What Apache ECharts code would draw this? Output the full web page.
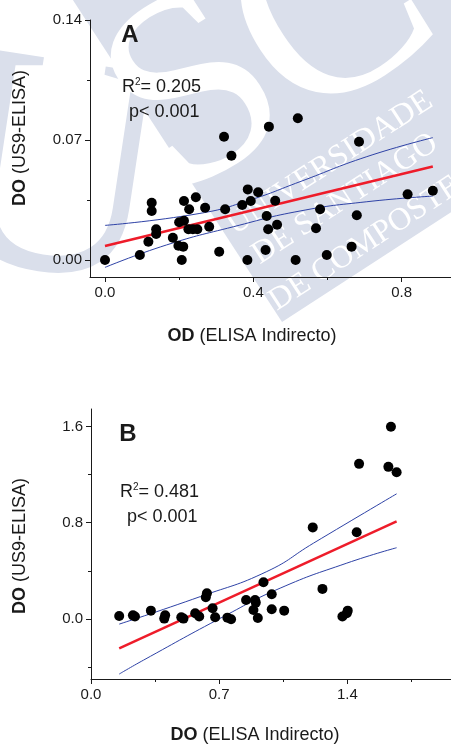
<!DOCTYPE html>
<html>
<head>
<meta charset="utf-8">
<script src="https://cdn.jsdelivr.net/npm/echarts@6/dist/echarts.min.js"></script>
<style>
  html, body { margin: 0; padding: 0; background: #fff; }
  #chart { width: 451px; height: 745px; }
</style>
</head>
<body>
<div id="chart"></div>
<script>
// ---- Panel A: US9-ELISA OD vs indirect ELISA OD ----
const odA = [0.000, 0.094, 0.126, 0.126, 0.138, 0.138, 0.117, 0.183, 0.198, 0.211,
             0.207, 0.213, 0.200, 0.213, 0.227, 0.245, 0.270, 0.225, 0.237, 0.249,
             0.281, 0.308, 0.321, 0.341, 0.324, 0.370, 0.385, 0.393, 0.413, 0.384,
             0.433, 0.436, 0.442, 0.440, 0.459, 0.464, 0.520, 0.514, 0.569, 0.580,
             0.598, 0.665, 0.679, 0.685, 0.816, 0.884];
const us9A = [0.0000, 0.0029, 0.0334, 0.0286, 0.0179, 0.0152, 0.0107, 0.0130, 0.0083, 0.0078,
              0.0000, 0.0344, 0.0220, 0.0229, 0.0296, 0.0366, 0.0305, 0.0179, 0.0179, 0.0179,
              0.0194, 0.0048, 0.0719, 0.0608, 0.0296, 0.0321, 0.0412, 0.0344, 0.0395, 0.0000,
              0.0058, 0.0257, 0.0778, 0.0179, 0.0346, 0.0206, 0.0827, 0.0000, 0.0185, 0.0296,
              0.0029, 0.0078, 0.0261, 0.0690, 0.0383, 0.0404];
const fitA   = [[0, 0.0082], [0.884, 0.0545]];
const upperA = [[0, 0.0202], [0.256, 0.0272], [0.391, 0.0350], [0.526, 0.0457], [0.706, 0.0603], [0.884, 0.0714]];
const lowerA = [[0, -0.0043], [0.166, 0.0088], [0.346, 0.0194], [0.526, 0.0286], [0.706, 0.0340], [0.884, 0.0373]];
const xTicksA = [0, 0.4, 0.8];
const xMinorA = [0.2, 0.6];
const yTicksA = [0, 0.07, 0.14];
const yMinorA = [0.035, 0.105];
const statsA = ['0.205', '0.001'];

// ---- Panel B ----
const odB = [0.154, 0.229, 0.240, 0.327, 0.400, 0.405, 0.493, 0.505, 0.569, 0.591,
             0.627, 0.633, 0.664, 0.678, 0.745, 0.765, 0.847, 0.887, 0.896, 0.900,
             0.911, 0.942, 0.987, 0.987, 1.055, 1.211, 1.264, 1.373, 1.397, 1.402,
             1.451, 1.464, 1.624, 1.638, 1.669];
const us9B = [0.025, 0.030, 0.020, 0.069, 0.003, 0.030, 0.014, 0.003, 0.047, 0.020,
              0.180, 0.214, 0.089, 0.014, 0.011, -0.003, 0.158, 0.075, 0.158, 0.136,
              0.008, 0.305, 0.205, 0.081, 0.069, 0.761, 0.250, 0.020, 0.047, 0.069,
              0.720, 1.289, 1.264, 1.597, 1.219];
const fitB   = [[0.154, -0.244], [1.669, 0.811]];
const upperB = [[0.154, -0.043], [0.597, 0.186], [0.960, 0.394], [1.215, 0.630], [1.669, 1.040]];
const lowerB = [[0.154, -0.458], [0.287, -0.342], [0.724, 0.020], [1.033, 0.256], [1.397, 0.464], [1.669, 0.592]];
const xTicksB = [0, 0.7, 1.4];
const xMinorB = [0.35, 1.05, 1.75];
const yTicksB = [0, 0.8, 1.6];
const yMinorB = [-0.4, 0.4, 1.2];
const statsB = ['0.481', '0.001'];

const SANS = 'Liberation Sans, Arial, Helvetica, sans-serif';
const SERIF = 'Liberation Serif, Times New Roman, serif';
const INK = '#1a1a1a';
const RED = '#ee1c2a';
const BLUE = '#2e42a6';
const WASH = '#dadfeb';

function pairs(xs, ys) { return xs.map((x, i) => [x, ys[i]]); }

function mainAxis(grid, min, max, ticks, digits, isX) {
  return {
    type: 'value', gridIndex: grid, min: min, max: max, z: 8,
    position: isX ? 'bottom' : 'left',
    splitLine: { show: false },
    axisLine: { show: true, onZero: false, lineStyle: { color: INK, width: 1 } },
    axisTick: { show: true, length: 5, customValues: ticks, lineStyle: { color: INK, width: 1 } },
    axisLabel: {
      show: true, customValues: ticks, margin: 8,
      color: INK, fontFamily: SANS, fontSize: 15,
      formatter: v => Number(v).toFixed(digits)
    }
  };
}
function minorAxis(grid, min, max, ticks, isX) {
  return {
    type: 'value', gridIndex: grid, min: min, max: max, z: 8,
    position: isX ? 'bottom' : 'left',
    splitLine: { show: false },
    axisLine: { show: false, onZero: false },
    axisTick: { show: true, length: 3, customValues: ticks, lineStyle: { color: INK, width: 1 } },
    axisLabel: { show: false }
  };
}
function scatter(xi, yi, data) {
  return { type: 'scatter', xAxisIndex: xi, yAxisIndex: yi, data: data,
           symbolSize: 10, itemStyle: { color: '#000', opacity: 1 }, z: 5 };
}
function curve(xi, yi, data, color, width, smooth) {
  return { type: 'line', xAxisIndex: xi, yAxisIndex: yi, data: data, smooth: smooth,
           symbol: 'none', lineStyle: { color: color, width: width }, z: 4 };
}

function statText(x, y, r2, p) {
  return [
    { type: 'text', x: x, y: y, z: 10, style: {
        text: '{r|R}{s|2}{r|= ' + r2 + '}', fill: INK, verticalAlign: 'middle',
        rich: { r: { fontFamily: SANS, fontSize: 18, lineHeight: 20, fill: INK },
                s: { fontFamily: SANS, fontSize: 10, lineHeight: 20, verticalAlign: 'top', fill: INK } } } },
    { type: 'text', x: x + 7, y: y + 25, z: 10, style: {
        text: 'p< ' + p, fill: INK, font: '18px ' + SANS, verticalAlign: 'middle' } }
  ];
}
function axisTitle(x, y, bold, rest, rot) {
  return { type: 'text', x: x, y: y, rotation: rot, z: 10, style: {
      text: '{b|' + bold + '}{n| ' + rest + '}', align: 'center', verticalAlign: 'middle',
      rich: { b: { fontFamily: SANS, fontSize: 18, fontWeight: 'bold', fill: INK },
              n: { fontFamily: SANS, fontSize: 18, fill: INK } } } };
}

// University watermark behind panel A: tinted band with the USC monogram and name
const ang = 33 * Math.PI / 180;
const c = Math.cos(ang), s = Math.sin(ang);
const corner = [282, 322];
const far = 620, deep = 440;
const band = [
  corner,
  [corner[0] + far * c, corner[1] - far * s],
  [corner[0] + far * c - deep * s, corner[1] - far * s - deep * c],
  [corner[0] - deep * s, corner[1] - deep * c]
];
function markText(x, y, rot, str, font, fill) {
  return { type: 'text', silent: true, z: 0, x: x, y: y, rotation: rot,
           style: { text: str, font: font, fill: fill, align: 'center', verticalAlign: 'middle' } };
}
const watermark = [
  { type: 'polygon', silent: true, z: 0, shape: { points: band }, style: { fill: WASH } },
  markText(50, 185, -0.15, 'U', '320px ' + SERIF, WASH),
  markText(200, 100, ang, 'S', '270px ' + SERIF, '#fff'),
  markText(335, 20, ang, 'C', '270px ' + SERIF, '#fff'),
  markText(330, 163, ang, 'UNIVERSIDADE', '32px ' + SERIF, '#fff'),
  markText(345, 199, ang, 'DE SANTIAGO', '32px ' + SERIF, '#fff'),
  markText(383, 232, ang, 'DE COMPOSTELA', '32px ' + SERIF, '#fff')
];

const chart = echarts.init(document.getElementById('chart'), null, { renderer: 'canvas' });
chart.setOption({
  animation: false,
  backgroundColor: '#fff',
  grid: [
    { left: 90, right: 0, top: 20, bottom: 468, outerBoundsMode: 'none' },
    { left: 91, right: 0, top: 409, bottom: 66, outerBoundsMode: 'none' }
  ],
  xAxis: [
    mainAxis(0, -0.0404, 0.933, xTicksA, 1, true),
    minorAxis(0, -0.0404, 0.933, xMinorA, true),
    mainAxis(1, 0, 1.966, xTicksB, 1, true),
    minorAxis(1, 0, 1.966, xMinorB, true)
  ],
  yAxis: [
    mainAxis(0, -0.0099, 0.14, yTicksA, 2, false),
    minorAxis(0, -0.0099, 0.14, yMinorA, false),
    mainAxis(1, -0.499, 1.745, yTicksB, 1, false),
    minorAxis(1, -0.499, 1.745, yMinorB, false)
  ],
  series: [
    curve(0, 0, upperA, BLUE, 1, true),
    curve(0, 0, lowerA, BLUE, 1, true),
    curve(0, 0, fitA, RED, 2.5, false),
    scatter(0, 0, pairs(odA, us9A)),
    curve(2, 2, upperB, BLUE, 1, true),
    curve(2, 2, lowerB, BLUE, 1, true),
    curve(2, 2, fitB, RED, 2.5, false),
    scatter(2, 2, pairs(odB, us9B))
  ],
  graphic: watermark.concat(
    [
      { type: 'text', x: 130, y: 35, z: 10, style: { text: 'A', font: 'bold 24px ' + SANS, fill: INK, align: 'center', verticalAlign: 'middle' } },
      { type: 'text', x: 128, y: 434, z: 10, style: { text: 'B', font: 'bold 24px ' + SANS, fill: INK, align: 'center', verticalAlign: 'middle' } },
      axisTitle(20, 138, 'DO', '(US9-ELISA)', Math.PI / 2),
      axisTitle(20, 546, 'DO', '(US9-ELISA)', Math.PI / 2),
      axisTitle(252, 336, 'OD', '(ELISA Indirecto)', 0),
      axisTitle(255, 735, 'DO', '(ELISA Indirecto)', 0)
    ],
    statText(122, 87, statsA[0], statsA[1]),
    statText(120, 492, statsB[0], statsB[1])
  )
});
</script>
</body>
</html>
